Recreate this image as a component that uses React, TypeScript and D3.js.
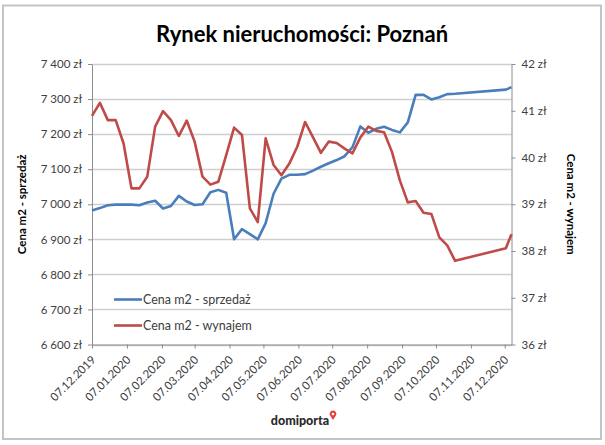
import { useEffect, useRef } from "react";
import * as d3 from "d3";

// weekly observations (dd.mm.yyyy)
const dates = [
  "07.12.2019", "14.12.2019", "21.12.2019", "28.12.2019",
  "04.01.2020", "11.01.2020", "18.01.2020", "25.01.2020",
  "01.02.2020", "08.02.2020", "15.02.2020", "22.02.2020", "29.02.2020",
  "07.03.2020", "14.03.2020", "21.03.2020", "28.03.2020",
  "04.04.2020", "11.04.2020", "18.04.2020", "25.04.2020",
  "02.05.2020", "09.05.2020", "16.05.2020", "23.05.2020", "30.05.2020",
  "06.06.2020", "13.06.2020", "20.06.2020", "27.06.2020",
  "04.07.2020", "11.07.2020", "18.07.2020", "25.07.2020",
  "01.08.2020", "08.08.2020", "15.08.2020", "22.08.2020", "29.08.2020",
  "05.09.2020", "12.09.2020", "19.09.2020", "26.09.2020",
  "03.10.2020", "10.10.2020", "17.10.2020", "24.10.2020",
  "08.12.2020", "13.12.2020",
];

// Cena m2 - sprzedaż (zł), left axis
const saleValues = [
  6982, 6989, 6997, 6999, 6999, 6999, 6997, 7005, 7010, 6988, 6995, 7024, 7008,
  6998, 7000, 7034, 7041, 7033, 6900, 6929, 6915, 6900, 6946, 7030, 7073, 7084,
  7084, 7086, 7096, 7107, 7117, 7126, 7137, 7163, 7222, 7204, 7215, 7221, 7212,
  7205, 7233, 7312, 7312, 7299, 7305, 7314, 7315, 7327, 7334,
];

// Cena m2 - wynajem (zł), right axis
const rentValues = [
  40.89, 41.17, 40.8, 40.8, 40.3, 39.34, 39.34, 39.59, 40.66, 40.99, 40.8, 40.46, 40.79,
  40.34, 39.59, 39.42, 39.48, 40.05, 40.64, 40.48, 38.91, 38.62, 40.41, 39.84, 39.62, 39.87,
  40.23, 40.76, 40.43, 40.1, 40.34, 40.31, 40.19, 40.09, 40.43, 40.66, 40.57, 40.54, 40.12,
  39.51, 39.04, 39.07, 38.82, 38.79, 38.29, 38.12, 37.79, 38.06, 38.36,
];

const leftTicks = [6600, 6700, 6800, 6900, 7000, 7100, 7200, 7300, 7400];
const rightTicks = [36, 37, 38, 39, 40, 41, 42];
const monthTicks = [
  "07.12.2019", "07.01.2020", "07.02.2020", "07.03.2020", "07.04.2020",
  "07.05.2020", "07.06.2020", "07.07.2020", "07.08.2020", "07.09.2020",
  "07.10.2020", "07.11.2020", "07.12.2020",
];

const seriesNames = ["Cena m2 - sprzedaż", "Cena m2 - wynajem"];
const seriesColors = ["#4a7ebb", "#be4b48"];

const FONT = "Lato, 'Open Sans', sans-serif";

export default function App() {
  const ref = useRef<HTMLDivElement>(null);

  useEffect(() => {
    if (!ref.current) return;
    const width = 605;
    const height = 445;
    const plot = { left: 92, right: 511.5, top: 64, bottom: 344.5 };

    d3.select(ref.current).selectAll("*").remove();

    const svg = d3
      .select(ref.current)
      .append("svg")
      .attr("width", width)
      .attr("height", height)
      .style("display", "block")
      .style("font-family", FONT);

    svg.append("rect").attr("width", width).attr("height", height).attr("fill", "#fff");

    // outer frame
    svg
      .append("rect")
      .attr("x", 3)
      .attr("y", 5.5)
      .attr("width", 598)
      .attr("height", 433.5)
      .attr("fill", "none")
      .attr("stroke", "#c4c4c4")
      .attr("stroke-width", 2);

    const parse = d3.timeParse("%d.%m.%Y");
    const points = dates.map((d, i) => ({
      date: parse(d) as Date,
      sale: saleValues[i],
      rent: rentValues[i],
    }));

    const x = d3
      .scaleTime()
      .domain([parse("07.12.2019") as Date, parse("13.12.2020") as Date])
      .range([plot.left, plot.right]);
    const yLeft = d3.scaleLinear().domain([6600, 7400]).range([plot.bottom, plot.top]);
    const yRight = d3.scaleLinear().domain([36, 42]).range([plot.bottom, plot.top]);

    const pl = d3.formatLocale({
      decimal: ",",
      thousands: " ",
      grouping: [3],
      currency: ["", " zł"],
    });

    // gridlines
    svg
      .append("g")
      .selectAll("line")
      .data(leftTicks)
      .enter()
      .append("line")
      .attr("x1", plot.left)
      .attr("x2", plot.right)
      .attr("y1", (d) => Math.round(yLeft(d)) + 0.5)
      .attr("y2", (d) => Math.round(yLeft(d)) + 0.5)
      .attr("stroke", "#cfcfcf")
      .attr("stroke-width", 1.3);

    const styleAxis = (g: d3.Selection<SVGGElement, unknown, null, undefined>) => {
      g.selectAll("path").attr("stroke", "#8c8c8c");
      g.selectAll("line").attr("stroke", "#8c8c8c");
      g.selectAll("text").attr("fill", "#404040").style("font-size", "11.5px").style("font-family", FONT);
    };

    // left axis
    svg
      .append("g")
      .attr("transform", `translate(${plot.left},0)`)
      .call(
        d3
          .axisLeft(yLeft)
          .tickValues(leftTicks)
          .tickSize(4)
          .tickSizeOuter(0)
          .tickPadding(6)
          .tickFormat((d) => pl.format("$,")(d as number))
      )
      .call(styleAxis);

    // right axis
    svg
      .append("g")
      .attr("transform", `translate(${plot.right},0)`)
      .call(
        d3
          .axisRight(yRight)
          .tickValues(rightTicks)
          .tickSize(4)
          .tickSizeOuter(0)
          .tickPadding(6)
          .tickFormat((d) => `${d} zł`)
      )
      .call(styleAxis);

    // bottom axis
    const xAxis = svg
      .append("g")
      .attr("transform", `translate(0,${plot.bottom})`)
      .call(
        d3
          .axisBottom(x)
          .tickValues(monthTicks.map((d) => parse(d) as Date))
          .tickSize(4)
          .tickSizeOuter(0)
          .tickFormat((d) => d3.timeFormat("%d.%m.%Y")(d as Date))
      )
      .call(styleAxis);
    xAxis
      .selectAll("text")
      .attr("x", 0)
      .attr("y", 0)
      .attr("dy", 0)
      .attr("transform", "translate(4,16) rotate(-45)")
      .style("text-anchor", "end");

    // lines
    const saleLine = d3
      .line<(typeof points)[number]>()
      .x((d) => x(d.date))
      .y((d) => yLeft(d.sale));
    const rentLine = d3
      .line<(typeof points)[number]>()
      .x((d) => x(d.date))
      .y((d) => yRight(d.rent));

    svg
      .append("path")
      .datum(points)
      .attr("d", saleLine)
      .attr("fill", "none")
      .attr("stroke", seriesColors[0])
      .attr("stroke-width", 2.6)
      .attr("stroke-linejoin", "round");

    svg
      .append("path")
      .datum(points)
      .attr("d", rentLine)
      .attr("fill", "none")
      .attr("stroke", seriesColors[1])
      .attr("stroke-width", 2.6)
      .attr("stroke-linejoin", "round");

    // legend
    const legend = svg.append("g").attr("transform", "translate(114,299.5)");
    seriesNames.forEach((name, i) => {
      legend
        .append("line")
        .attr("x1", 0)
        .attr("x2", 28)
        .attr("y1", i * 26)
        .attr("y2", i * 26)
        .attr("stroke", seriesColors[i])
        .attr("stroke-width", 2.6);
      legend
        .append("text")
        .attr("x", 29)
        .attr("y", i * 26 + 4.5)
        .attr("fill", "#404040")
        .style("font-size", "12.5px")
        .text(name);
    });

    // title
    svg
      .append("text")
      .attr("x", 302)
      .attr("y", 42)
      .attr("text-anchor", "middle")
      .attr("fill", "#000")
      .style("font-size", "22px")
      .style("font-weight", "bold")
      .text("Rynek nieruchomości: Poznań");

    // axis titles
    svg
      .append("text")
      .attr("transform", `translate(26,${(plot.top + plot.bottom) / 2}) rotate(-90)`)
      .attr("text-anchor", "middle")
      .attr("fill", "#000")
      .style("font-size", "11.5px")
      .style("font-weight", "bold")
      .text("Cena m2 - sprzedaż");

    svg
      .append("text")
      .attr("transform", `translate(567,${(plot.top + plot.bottom) / 2}) rotate(90)`)
      .attr("text-anchor", "middle")
      .attr("fill", "#000")
      .style("font-size", "11.5px")
      .style("font-weight", "bold")
      .text("Cena m2 - wynajem");

    // logo
    svg
      .append("text")
      .attr("x", 300)
      .attr("y", 425)
      .attr("text-anchor", "middle")
      .attr("fill", "#2b2b2b")
      .style("font-size", "12.5px")
      .style("font-weight", "900")
      .text("domiporta");
    const pin = svg.append("g").attr("transform", "translate(333,416)");
    pin.append("path").attr("d", "M-3.2,-1 A3.4,3.4 0 1,1 3.2,-1 L0,4 Z").attr("fill", "#e8423f");
    pin.append("circle").attr("cx", 0).attr("cy", -2).attr("r", 1.3).attr("fill", "#fff");
  }, []);

  return (
    <div style={{ position: "absolute", left: 0, top: 0 }}>
      <div ref={ref} />
    </div>
  );
}
